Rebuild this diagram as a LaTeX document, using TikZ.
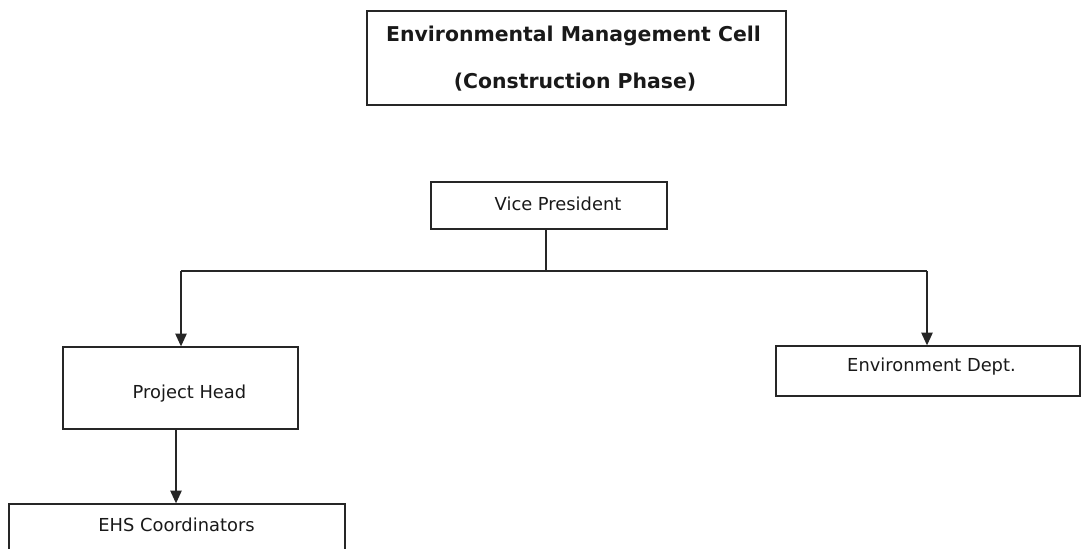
\documentclass[tikz,border=0pt]{standalone}
\usepackage{fontspec}
\setmainfont{DejaVu Sans}
\usetikzlibrary{arrows.meta,fit}
\begin{document}
\begin{tikzpicture}[x=0.75pt,y=-0.75pt,
  box/.style={draw=black!85, line width=1pt, inner sep=0pt, rectangle},
  lbl/.style={inner sep=0pt, text=black!90, font=\fontsize{13.4}{15}\selectfont},
  ttl/.style={inner sep=0pt, text=black!90, font=\fontsize{15.3}{18}\selectfont\bfseries},
  conn/.style={draw=black!85, line width=1pt},
  arr/.style={conn, -{Triangle[width=8.5pt,length=9.5pt]}}]
\useasboundingbox (0,0) rectangle (1081,549);
\clip (0,0) rectangle (1081,549);
% boxes
\node[box, fit={(367,11) (786,105)}] (title) {};
\node[box, fit={(431,182) (667,229)}] (vp) {};
\node[box, fit={(776,346) (1080,396)}] (env) {};
\node[box, fit={(63,347) (298,429)}] (ph) {};
\node[box, fit={(9,504) (345,570)}] (ehs) {};
% texts
\node[ttl] (t1) at (573.5,36) {Environmental Management Cell};
\node[ttl] (t2) at (575,82) {(Construction Phase)};
\node[lbl] (vpt) at (558,204) {Vice President};
\node[lbl] (envt) at (931.5,367) {Environment Dept.};
\node[lbl] (pht) at (189.5,394) {Project Head};
\node[lbl] (ehst) at (176.5,525) {EHS Coordinators};
% connectors
\coordinate (j) at (546,271);
\coordinate (lt) at (181,271);
\coordinate (rt) at (927,271);
\coordinate (phb) at (176,429);
\draw[conn] (vp.south -| j) -- (j);
\draw[conn] (lt) -- (rt);
\draw[arr] (lt) -- (lt |- ph.north);
\draw[arr] (rt) -- (rt |- env.north);
\draw[arr] (phb) -- (phb |- ehs.north);
\end{tikzpicture}
\end{document}
